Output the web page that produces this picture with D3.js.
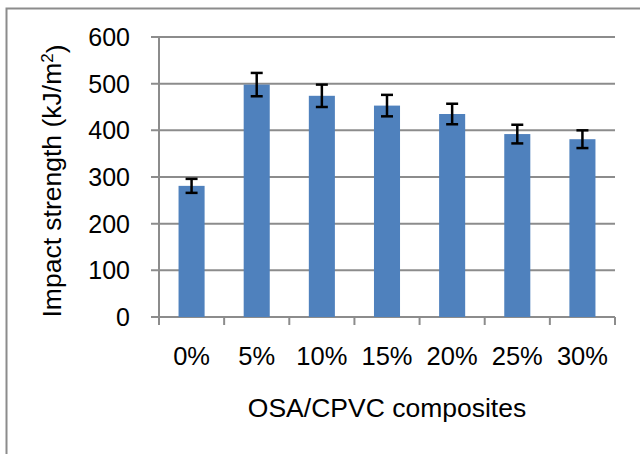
<!DOCTYPE html>
<html>
<head>
<meta charset="utf-8">
<script src="https://d3js.org/d3.v7.min.js"></script>
<style>
  body { margin: 0; background: #fff; }
  text { font-family: "Liberation Sans", Arial, sans-serif; fill: #000; }
</style>
</head>
<body>
<div id="chart"></div>
<script>
// Chart size
const width = 640;
const height = 454;
const margin = { top: 37, right: 25, bottom: 137, left: 159 };

// Data
const categories = ["0%", "5%", "10%", "15%", "20%", "25%", "30%"];
const strength = [281, 498, 474, 453, 435, 392, 381];
const errors = [15, 25, 24, 23, 22, 20, 19];
const yTicks = [0, 100, 200, 300, 400, 500, 600];

const svg = d3.select("#chart")
    .append("svg")
    .attr("width", width)
    .attr("height", height);

// Outer frame (only left and top edges are visible)
svg.append("path")
    .attr("d", `M6.5,${height} V8.5 H${width}`)
    .attr("fill", "none")
    .attr("stroke", "#8c8c8c")
    .attr("stroke-width", 2);

const x = d3.scaleBand()
    .domain(categories)
    .range([margin.left, width - margin.right])
    .paddingInner(0.6)
    .paddingOuter(0.3);

const y = d3.scaleLinear()
    .domain([0, 600])
    .range([height - margin.bottom, margin.top]);

// Gridlines
svg.append("g")
    .selectAll("line")
    .data(yTicks)
    .enter()
    .append("line")
    .attr("x1", margin.left - 8)
    .attr("x2", width - margin.right)
    .attr("y1", d => y(d))
    .attr("y2", d => y(d))
    .attr("stroke", "#8c8c8c")
    .attr("stroke-width", 2);

// Y axis labels
svg.append("g")
    .selectAll("text")
    .data(yTicks)
    .enter()
    .append("text")
    .attr("x", 130)
    .attr("y", d => y(d))
    .attr("dy", "0.36em")
    .attr("text-anchor", "end")
    .style("font-size", "25px")
    .text(d => d);

// Y axis line
svg.append("line")
    .attr("x1", margin.left)
    .attr("x2", margin.left)
    .attr("y1", y(600))
    .attr("y2", y(0))
    .attr("stroke", "#8c8c8c")
    .attr("stroke-width", 2);

// X tick marks at band boundaries
const step = x.step();
const bounds = d3.range(categories.length + 1).map(i => margin.left + i * step);
svg.append("g")
    .selectAll("line")
    .data(bounds)
    .enter()
    .append("line")
    .attr("x1", d => d)
    .attr("x2", d => d)
    .attr("y1", y(0))
    .attr("y2", y(0) + 8)
    .attr("stroke", "#8c8c8c")
    .attr("stroke-width", 2);

// Bars
svg.append("g")
    .selectAll("rect")
    .data(strength)
    .enter()
    .append("rect")
    .attr("x", (d, i) => x(categories[i]))
    .attr("y", d => y(d))
    .attr("width", x.bandwidth())
    .attr("height", d => y(0) - y(d))
    .attr("fill", "#4f81bd");

// Error bars
const eb = svg.append("g")
    .attr("stroke", "#000")
    .attr("stroke-width", 2.5);
strength.forEach((v, i) => {
    const cx = x(categories[i]) + x.bandwidth() / 2;
    const top = y(v + errors[i]);
    const bot = y(v - errors[i]);
    eb.append("line").attr("x1", cx).attr("x2", cx).attr("y1", top).attr("y2", bot);
    eb.append("line").attr("x1", cx - 6).attr("x2", cx + 6).attr("y1", top).attr("y2", top);
    eb.append("line").attr("x1", cx - 6).attr("x2", cx + 6).attr("y1", bot).attr("y2", bot);
});

// X labels
svg.append("g")
    .selectAll("text")
    .data(categories)
    .enter()
    .append("text")
    .attr("x", d => x(d) + x.bandwidth() / 2)
    .attr("y", 365)
    .attr("text-anchor", "middle")
    .style("font-size", "25.5px")
    .text(d => d);

// Axis titles
svg.append("text")
    .attr("x", (margin.left + width - margin.right) / 2)
    .attr("y", 417)
    .attr("text-anchor", "middle")
    .style("font-size", "26.5px")
    .text("OSA/CPVC composites");

const yt = svg.append("text")
    .attr("transform", "translate(61,181) rotate(-90)")
    .attr("text-anchor", "middle")
    .style("font-size", "26.5px");
yt.append("tspan").text("Impact strength (kJ/m");
yt.append("tspan").attr("dy", "-0.45em").style("font-size", "17px").text("2");
yt.append("tspan").attr("dy", "0.45em").text(")");
</script>
</body>
</html>
